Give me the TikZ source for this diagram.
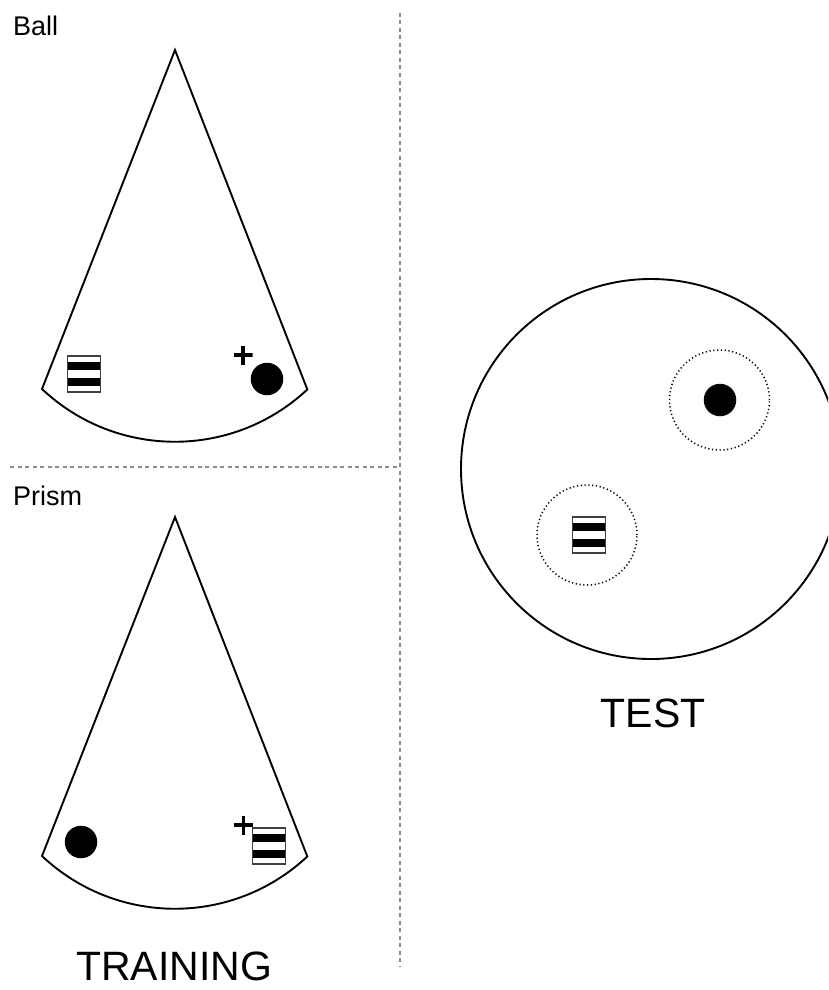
\documentclass[tikz,border=0pt]{standalone}
\usepackage{fontspec}
\setmainfont{Liberation Sans}
\begin{document}
\begin{tikzpicture}[x=1pt,y=-1pt,
  outline/.style={draw=black,line width=1.9pt},
  sepline/.style={draw=black!45,line width=1.5pt,dash pattern=on 4pt off 3.5pt},
  ball/.style={circle,fill=black,inner sep=0pt,minimum size=32.5pt},
  zone/.style={circle,draw=black,line width=1.5pt,dash pattern=on 1.2pt off 2.6pt,inner sep=0pt,minimum size=100pt},
  txtlabel/.style={font=\fontsize{27}{32}\selectfont,anchor=base west,inner sep=0pt},
  titletxt/.style={font=\fontsize{41}{48}\selectfont,anchor=base,inner sep=0pt,text depth=0pt},
  prismbox/.style={rectangle,draw=black!75,line width=1.4pt,fill=white,inner sep=0pt,
    minimum width=33pt,minimum height=36pt,
    path picture={
      \fill[black] ([yshift=-5.5pt]path picture bounding box.north west) rectangle ([yshift=-13.8pt]path picture bounding box.north east);
      \fill[black] ([yshift=-21.8pt]path picture bounding box.north west) rectangle ([yshift=-30.1pt]path picture bounding box.north east);
    }},
  plussign/.style={rectangle,inner sep=0pt,minimum size=19pt,
    path picture={
      \draw[line width=3.6pt] (path picture bounding box.west) -- (path picture bounding box.east);
      \draw[line width=3.6pt] (path picture bounding box.north) -- (path picture bounding box.south);
    }}
]
\clip (0,0) rectangle (828,990);
\fill[white] (0,0) rectangle (828,990);

% separators
\draw[sepline] (400,13) -- (400,966);
\draw[sepline] (10,467) -- (400,467);

% labels
\node[txtlabel] (lball) at (13,36) {Ball};
\node[txtlabel] (lprism) at (13,505) {Prism};
\node[titletxt] (ltest) at (653,727) {TEST};
\node[titletxt] (ltrain) at (174,980) {TRAINING};

% training sector: ball
\draw[outline] (175,50) -- (42,389) arc[start angle=133.3,end angle=46.9,radius=193.8] -- cycle;
\node[prismbox] (p1) at (84,374) {};
\node[ball] (b1) at (267,379) {};
\node[plussign] (plus1) at (243,355) {};

% training sector: prism
\draw[outline] (175,517) -- (42,856) arc[start angle=133.3,end angle=46.9,radius=193.8] -- cycle;
\node[ball] (b2) at (81,842) {};
\node[prismbox] (p2) at (269,846) {};
\node[plussign] (plus2) at (243.5,825) {};

% test arena
\draw[outline] (651,469) circle[radius=190];
\node[zone] (z1) at (719.5,400) {};
\node[ball] (b3) at (720,400) {};
\node[zone] (z2) at (587,535) {};
\node[prismbox] (p3) at (589,535) {};
\end{tikzpicture}
\end{document}
